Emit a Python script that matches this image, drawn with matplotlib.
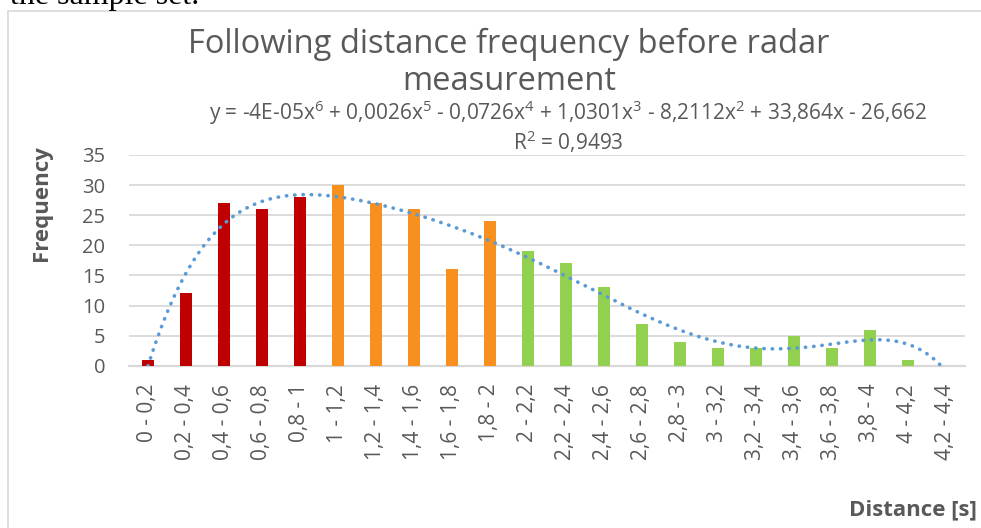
import numpy as np
import matplotlib
matplotlib.use("Agg")
import matplotlib.pyplot as plt
from matplotlib.patches import Rectangle

categories = ["0 - 0,2", "0,2 - 0,4", "0,4 - 0,6", "0,6 - 0,8", "0,8 - 1",
              "1 - 1,2", "1,2 - 1,4", "1,4 - 1,6", "1,6 - 1,8", "1,8 - 2",
              "2 - 2,2", "2,2 - 2,4", "2,4 - 2,6", "2,6 - 2,8", "2,8 - 3",
              "3 - 3,2", "3,2 - 3,4", "3,4 - 3,6", "3,6 - 3,8", "3,8 - 4",
              "4 - 4,2", "4,2 - 4,4"]
frequency = [1, 12, 27, 26, 28, 30, 27, 26, 16, 24, 19, 17, 13, 7, 4, 3, 3, 5, 3, 6, 1, 0]
group_colors = ["#C00000"] * 5 + ["#F7901E"] * 5 + ["#92D050"] * 12
yticks = [0, 5, 10, 15, 20, 25, 30, 35]

title = "Following distance frequency before radar\nmeasurement"
equation = ("y = -4E-05x$^6$ + 0,0026x$^5$ - 0,0726x$^4$ + 1,0301x$^3$ - "
            "8,2112x$^2$ + 33,864x - 26,662")
r2_text = "R$^2$ = 0,9493"

plt.rcParams['font.family'] = ['Open Sans', 'DejaVu Sans']
plt.rcParams['mathtext.fontset'] = 'custom'
plt.rcParams['mathtext.rm'] = 'Open Sans'
plt.rcParams['mathtext.default'] = 'rm'

W, H = 981, 528
fig = plt.figure(figsize=(W / 100, H / 100), dpi=100)

# chart border
fig.patches.append(Rectangle((8 / W, -0.1), 1.2, (H - 11) / H + 0.1,
                             transform=fig.transFigure, fill=False,
                             edgecolor="#D9D9D9", linewidth=1.2))
# document text cut at top
fig.text(10 / W, 1 - 4 / H, "the sample set.", family="Liberation Serif",
         fontsize=23, va="baseline", ha="left", color="black")

ax = fig.add_axes([129 / W, (H - 365.7) / H, (965 - 129) / W, (365.7 - 155) / H])
x = np.arange(len(categories))
ax.bar(x, frequency, width=0.32, color=group_colors, zorder=2)

# polynomial trendline (degree 6), fitted from the data
xe = x + 1
coef = np.polyfit(xe, frequency, 6)
xs = np.linspace(1, len(categories), 400)
ax.plot(xs - 1, np.polyval(coef, xs), linestyle=(0, (0.1, 2.2)), dash_capstyle="round",
        color="#5B9BD5", linewidth=2.6, zorder=3)

ax.set_xlim(-0.5, len(categories) - 0.5)
ax.set_ylim(0, 35)
ax.set_yticks(yticks)
ax.set_xticks(x)
ax.set_xticklabels(categories, rotation=90, fontsize=15, color="#595959")
ax.tick_params(axis="y", labelsize=14.5, labelcolor="#595959", length=0, pad=17)
ax.tick_params(axis="x", length=0, pad=13)
ax.grid(axis="y", color="#D9D9D9", linewidth=1.3, zorder=0)
for s in ["top", "right", "left"]:
    ax.spines[s].set_visible(False)
ax.spines["bottom"].set_color("#D9D9D9")
ax.spines["bottom"].set_linewidth(1.6)
ax.spines["bottom"].set_zorder(1)

fig.text(509 / W, 1 - 63 / H, title, ha="center", va="center", fontsize=23.5,
         color="#595959", linespacing=1.15)
fig.text(568 / W, 1 - 113 / H, equation, ha="center", va="center", fontsize=15,
         color="#595959")
fig.text(568 / W, 1 - 142 / H, r2_text, ha="center", va="center", fontsize=15,
         color="#595959")
fig.text(41 / W, 1 - 203 / H, "Frequency", rotation=90, ha="center", va="center",
         fontsize=16, fontweight="bold", color="#595959")
fig.text(977 / W, 1 - 510 / H, "Distance [s]", ha="right", va="center",
         fontsize=16, fontweight="bold", color="#595959")

fig.savefig("out.png", dpi=100)
